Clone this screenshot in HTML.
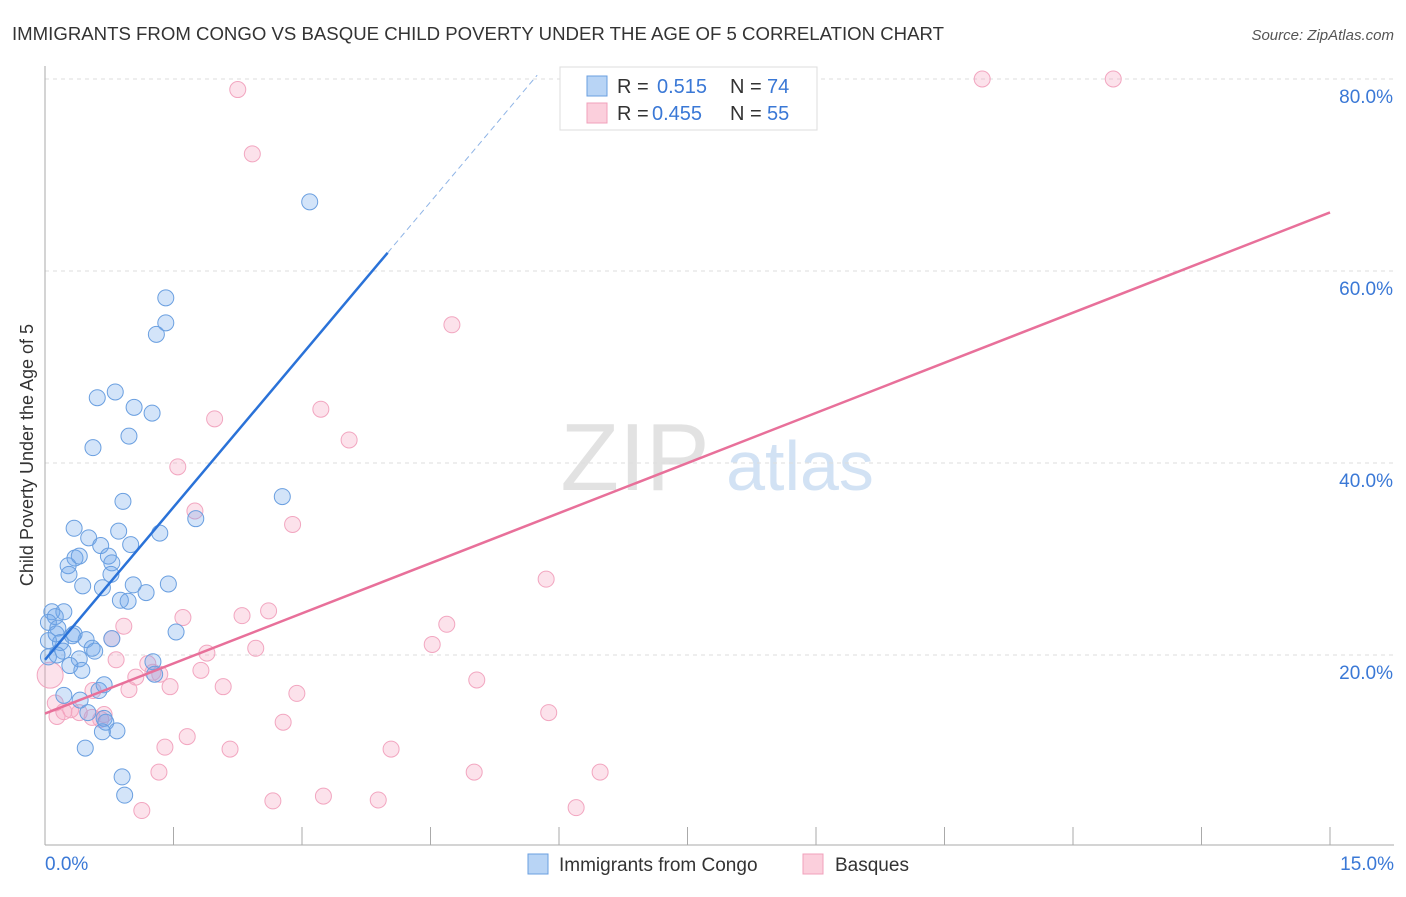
<!DOCTYPE html>
<html><head><meta charset="utf-8"><style>
body{margin:0;background:#fff;font-family:"Liberation Sans",sans-serif;}
svg text{font-family:"Liberation Sans",sans-serif;}
</style></head><body>
<svg id="chart" width="1406" height="892" xmlns="http://www.w3.org/2000/svg">
<text x="12" y="40" font-size="18" fill="#333" textLength="932" lengthAdjust="spacingAndGlyphs">IMMIGRANTS FROM CONGO VS BASQUE CHILD POVERTY UNDER THE AGE OF 5 CORRELATION CHART</text>
<text x="1394" y="40" font-size="15" fill="#555" font-style="italic" text-anchor="end">Source: ZipAtlas.com</text>
<text x="0" y="0" transform="translate(33,455) rotate(-90)" font-size="18" fill="#333" text-anchor="middle">Child Poverty Under the Age of 5</text>
<g><text x="635" y="490" font-size="96" fill="#e2e2e2" font-family="Liberation Serif" text-anchor="middle">ZIP</text><text x="800" y="490" font-size="70" fill="#d2e2f4" text-anchor="middle">atlas</text></g>
<g id="grid"></g><g id="axes"></g><g id="marks"></g>
<g>
<rect x="560" y="67" width="257" height="63" fill="#fff" stroke="#ddd"/>
<rect x="587" y="76" width="20" height="20" fill="#b8d4f5" stroke="#6a9fe0"/>
<text x="617" y="93" font-size="20" fill="#333">R = </text><text x="657" y="93" font-size="20" fill="#3a78d6">0.515</text>
<text x="730" y="93" font-size="20" fill="#333">N = </text><text x="767" y="93" font-size="20" fill="#3a78d6">74</text>
<rect x="587" y="103" width="20" height="20" fill="#fbcfdc" stroke="#f0a0bb"/>
<text x="617" y="120" font-size="20" fill="#333">R = </text><text x="652" y="120" font-size="20" fill="#3a78d6">0.455</text>
<text x="730" y="120" font-size="20" fill="#333">N = </text><text x="767" y="120" font-size="20" fill="#3a78d6">55</text>
</g>
<g>
<rect x="528" y="854" width="20" height="20" fill="#b8d4f5" stroke="#6a9fe0"/>
<text x="559" y="871" font-size="19" fill="#333">Immigrants from Congo</text>
<rect x="803" y="854" width="20" height="20" fill="#fbcfdc" stroke="#f0a0bb"/>
<text x="835" y="871" font-size="19" fill="#333">Basques</text>
</g>
</svg>
<script>
const xTicks=[0,1.5,3,4.5,6,7.5,9,10.5,12,13.5,15];
const yTicks=[20,40,60,80];
const yTickLabels=["20.0%","40.0%","60.0%","80.0%"];
const xEndLabels=["0.0%","15.0%"];
const congoX=[3.09,1.41,1.41,1.30,0.82,0.61,1.04,1.25,0.98,0.56,0.91,1.76,2.77,0.34,0.51,0.86,1.34,0.65,1.00,0.74,0.35,0.40,0.78,0.27,0.28,0.77,0.44,0.67,1.03,1.18,1.44,0.88,0.97,0.08,0.22,0.12,0.04,0.15,0.13,0.34,1.53,0.32,0.78,0.48,0.18,0.04,0.55,0.58,0.21,0.14,0.04,0.40,1.26,0.29,0.43,1.28,0.22,0.63,0.69,0.41,0.50,0.69,0.71,0.84,0.67,0.47,0.90,0.93];
const congoY=[67.2,57.2,54.6,53.4,47.4,46.8,45.8,45.2,42.8,41.6,36.0,34.2,36.5,33.2,32.2,32.9,32.7,31.4,31.5,30.3,30.1,30.3,29.6,29.3,28.4,28.4,27.2,27.0,27.3,26.5,27.4,25.7,25.6,24.5,24.5,24.0,23.4,22.8,22.2,22.2,22.4,22.0,21.7,21.6,21.3,21.5,20.7,20.4,20.4,20.0,19.8,19.6,19.3,18.9,18.4,18.0,15.8,16.3,16.9,15.3,14.0,13.4,13.0,12.1,12.0,10.3,7.3,5.4];
const basqueX=[2.25,2.42,10.94,12.47,4.75,3.22,3.55,1.98,1.55,1.75,2.89,5.85,2.61,2.30,1.61,4.69,0.78,2.46,4.52,0.92,1.89,0.83,1.20,1.26,1.06,1.34,1.82,2.08,1.46,0.98,0.56,2.94,5.04,0.06,0.12,0.30,0.14,0.22,0.40,0.55,0.65,2.78,5.88,1.66,1.40,2.16,4.04,1.33,5.01,6.48,2.66,3.25,3.89,6.20,1.13,0.69];
const basqueY=[78.9,72.2,80.0,80.0,54.4,45.6,42.4,44.6,39.6,35.0,33.6,27.9,24.6,24.1,23.9,23.2,21.7,20.7,21.1,23.0,20.2,19.5,19.1,18.2,17.7,18.0,18.4,16.7,16.7,16.4,16.3,16.0,17.4,17.9,15.0,14.3,13.6,14.1,14.0,13.5,13.3,13.0,14.0,11.5,10.4,10.2,10.2,7.8,7.8,7.8,4.8,5.3,4.9,4.1,3.8,13.8];
const congoTrend=[19.5,61.9];   // y at x=0 and x=4.0
const congoTrendX=[0,4.0,15];
const basqueTrend=[13.9,66.1];  // y at x=0 and x=15
const X=v=>45+v*(1330-45)/15;
const Y=v=>847-v*9.6;
const NS="http://www.w3.org/2000/svg";
function mk(tag,attrs,parent){const e=document.createElementNS(NS,tag);for(const k in attrs)e.setAttribute(k,attrs[k]);document.getElementById(parent).appendChild(e);return e;}
yTicks.forEach((t,i)=>{
 const g=mk('line',{x1:45,x2:1394,y1:Y(t),y2:Y(t),stroke:'#ddd','stroke-dasharray':'4,4'},'grid');
 
 
 const l=mk('text',{x:1393,y:Y(t)+24,'font-size':19,fill:'#3a78d6','text-anchor':'end'},'axes');
 l.textContent=yTickLabels[i];
 
 
});
const ax=mk('line',{x1:45,x2:1394,y1:845,y2:845,stroke:'#aaa'},'axes');


const ay=mk('line',{x1:45,x2:45,y1:66,y2:845,stroke:'#aaa'},'axes');


xTicks.forEach(t=>{
 const k=mk('line',{x1:X(t),x2:X(t),y1:827,y2:845,stroke:'#aaa'},'axes');
 
 
});
[[0,'start',45],[1,'end',1394]].forEach(([i,a,x])=>{
 const l=mk('text',{x:x,y:870,'font-size':19,fill:'#3a78d6','text-anchor':a},'axes');
 l.textContent=xEndLabels[i];
 
 
});
basqueX.forEach((v,i)=>{
 const c=mk('circle',{cx:X(v),cy:Y(basqueY[i]),r:(i==33?13:8),fill:'rgba(245,160,190,0.3)',stroke:'#f2a6c0','stroke-width':1},'marks');
 
 
});
congoX.forEach((v,i)=>{
 const c=mk('circle',{cx:X(v),cy:Y(congoY[i]),r:8,fill:'rgba(110,165,235,0.3)',stroke:'#6a9fe0','stroke-width':1},'marks');
 
 
});
const slopeC=(congoTrend[1]-congoTrend[0])/congoTrendX[1];
const xEndDash=(80.4-congoTrend[0])/slopeC;
const cl=mk('line',{x1:X(0),y1:Y(congoTrend[0]),x2:X(congoTrendX[1]),y2:Y(congoTrend[1]),stroke:'#2a72d8','stroke-width':2.5},'marks');


const cd=mk('line',{x1:X(congoTrendX[1]),y1:Y(congoTrend[1]),x2:X(xEndDash),y2:Y(80.4),stroke:'#8fb4e6','stroke-width':1,'stroke-dasharray':'6,4'},'marks');


const bl=mk('line',{x1:X(0),y1:Y(basqueTrend[0]),x2:X(15),y2:Y(basqueTrend[1]),stroke:'#e8709a','stroke-width':2.5},'marks');


</script>
</body></html>
